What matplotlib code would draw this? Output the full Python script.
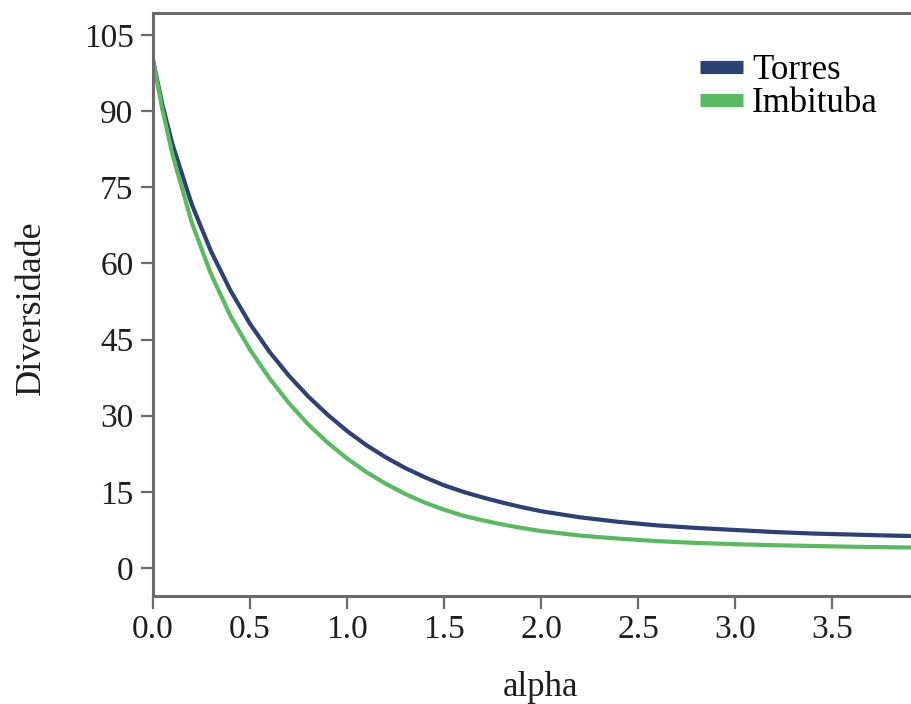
import matplotlib.pyplot as plt

# diversity profile values per alpha
alpha = [0.0, 0.05, 0.1, 0.2, 0.3, 0.4, 0.5, 0.6, 0.7, 0.8, 0.9, 1.0, 1.1,
         1.2, 1.3, 1.4, 1.5, 1.6, 1.7, 1.8, 1.9, 2.0, 2.2, 2.4, 2.6, 2.8,
         3.0, 3.2, 3.4, 3.6, 3.8, 4.0]
torres = [100.0, 91.0, 83.5, 71.6, 62.3, 54.6, 48.1, 42.6, 37.9, 33.8, 30.2,
          27.0, 24.2, 21.8, 19.7, 17.9, 16.3, 15.0, 13.9, 12.9, 12.0, 11.2,
          10.0, 9.1, 8.4, 7.9, 7.5, 7.1, 6.8, 6.6, 6.4, 6.25]
imbituba = [100.0, 90.0, 81.5, 68.0, 57.8, 49.6, 43.0, 37.4, 32.5, 28.3,
            24.7, 21.6, 18.9, 16.6, 14.6, 12.9, 11.5, 10.3, 9.4, 8.6, 7.9,
            7.3, 6.4, 5.8, 5.3, 4.95, 4.7, 4.5, 4.35, 4.2, 4.1, 4.0]

SERIES = {"Torres": (torres, "#2d4173"), "Imbituba": (imbituba, "#5cb862")}
AXIS_GREY = "#6b6b6b"
TEXT = "#1e1e1e"

plt.rcParams["font.family"] = ["Liberation Serif", "DejaVu Serif"]

fig = plt.figure(figsize=(9.12, 7.04), dpi=100)
# axes run past the right edge of the figure
ax = fig.add_axes([153 / 912, 108 / 704, 776 / 912, 583 / 704])

for name, (values, color) in SERIES.items():
    ax.plot(alpha, values, color=color, linewidth=3.0, label=name,
            solid_capstyle="round", solid_joinstyle="round")

ax.set_xlim(0, 4.0)
ax.set_ylim(-5.5, 109.3)
ax.set_xticks([0.0, 0.5, 1.0, 1.5, 2.0, 2.5, 3.0, 3.5])
ax.set_xticklabels(["0.0", "0.5", "1.0", "1.5", "2.0", "2.5", "3.0", "3.5"])
ax.set_yticks(range(0, 106, 15))

for side in ["left", "bottom", "top"]:
    ax.spines[side].set_color(AXIS_GREY)
    ax.spines[side].set_linewidth(2.2)
ax.spines["right"].set_visible(False)
ax.tick_params(axis="both", direction="out", length=9, width=1.6,
               color=AXIS_GREY, labelsize=24, labelcolor=TEXT)
ax.tick_params(axis="y", pad=5)
ax.tick_params(axis="x", pad=4)

ax.set_xlabel("alpha", fontsize=25, color=TEXT)
ax.set_ylabel("Diversidade", fontsize=26, color=TEXT)
ax.xaxis.set_label_coords(0.5, -0.128)
ax.yaxis.set_label_coords(-0.136, 0.495)

leg = ax.legend(loc="upper left", bbox_to_anchor=(0.705, 0.93), frameon=False,
                fontsize=25, handlelength=1.24, handletextpad=0.26,
                labelspacing=0.0, borderaxespad=0, borderpad=0)
for line in leg.get_lines():
    line.set_linewidth(9.5)
    line.set_solid_capstyle("butt")

fig.savefig("out.png", dpi=100)
